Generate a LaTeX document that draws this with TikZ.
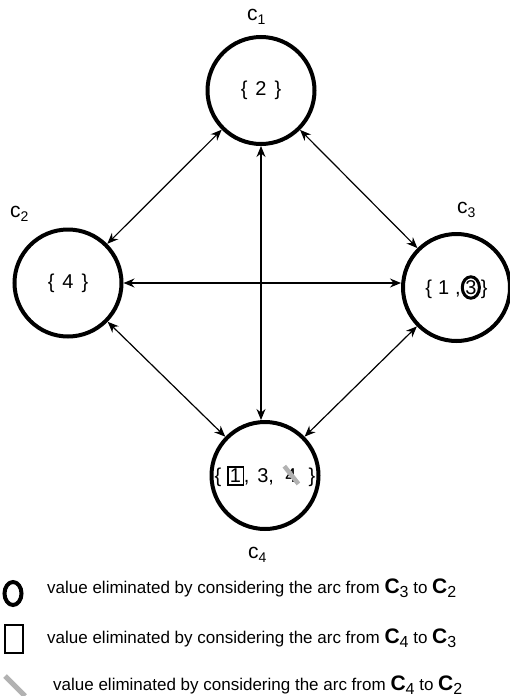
\documentclass[tikz,border=0pt]{standalone}
\usepackage{fontspec}
\setmainfont{Liberation Sans}
\usetikzlibrary{arrows.meta,shapes.geometric}

\tikzset{
  varnode/.style={circle, draw, line width=4pt, minimum size=107pt, inner sep=0pt, font=\fontsize{20}{24}\selectfont},
  link/.style={{Stealth[length=11pt,width=9pt]}-{Stealth[length=11pt,width=9pt]}, line width=1.2pt},
  nametag/.style={anchor=base west, inner sep=0pt, font=\fontsize{21}{24}\selectfont},
  legendtext/.style={anchor=base west, inner sep=0pt, font=\fontsize{17}{20}\selectfont},
}

\newcommand{\wgap}{\hspace{8pt}}
\newcommand{\csub}[1]{c\raisebox{-4pt}{\fontsize{14}{14}\selectfont #1}}
\newcommand{\arcend}[1]{{\fontsize{21}{21}\selectfont\bfseries C}\raisebox{-4pt}{\fontsize{16}{16}\selectfont #1}}
\newcommand{\boxd}[1]{{\setlength{\fboxsep}{1.5pt}\setlength{\fboxrule}{1.2pt}\fbox{#1}}}
\newcommand{\ringed}[1]{\tikz[baseline=(r.base)]\node[ellipse, draw, line width=3pt, inner sep=0.5pt, outer sep=0pt, minimum size=0pt](r){#1};}
\newcommand{\struck}[1]{\tikz[baseline=(s.base)]{\node[rectangle, inner sep=0pt, outer sep=0pt, minimum size=0pt](s){#1};
  \draw[gray!60, line width=4.5pt] ([shift={(-1pt,3pt)}]s.north west) -- ([shift={(2pt,-1pt)}]s.south east);}}

\begin{document}
\begin{tikzpicture}[x=1pt, y=-1pt]
  \useasboundingbox (0,0) rectangle (509,696);

  % the four variables and their domains
  \node[varnode] (c1) at (261,90.5)  {\{\wgap 2\wgap\}};
  \node[varnode] (c2) at (68,283)    {\{\wgap 4\wgap\}};
  \node[varnode] (c3) at (456.5,287.5) {\{\hspace{6pt}1\hspace{6pt},\ringed{3}\}};
  \node[varnode] (c4) at (265,475.5) {\{\hspace{6pt}\boxd{1},\wgap 3,\wgap\struck{4}\wgap\}};

  % names
  \node[nametag] (t1) at (247,20)  {\csub{1}};
  \node[nametag] (t2) at (10,217)  {\csub{2}};
  \node[nametag] (t3) at (457,213) {\csub{3}};
  \node[nametag] (t4) at (248,558) {\csub{4}};

  % arcs
  \foreach \a/\b in {c1/c2, c1/c3, c2/c4, c3/c4} {
    \draw[link] (\a) -- (\b);
  }
  \draw[link] (c1) -- (c1 |- c4.north); % straight down
  \draw[link] (c2) -- (c2 -| c3.west); % straight across

  % legend
  \draw[line width=4pt] (13,593.5) ellipse [x radius=8.5, y radius=11.5];
  \draw[line width=1.2pt] (5,625) rectangle (23,653);
  \draw[gray!60, line width=5pt] (5,676) -- (25,696);
  \node[legendtext] (l1) at (47,593) {value eliminated by considering the arc from \arcend{3} to \arcend{2}};
  \node[legendtext] (l2) at (47,643) {value eliminated by considering the arc from \arcend{4} to \arcend{3}};
  \node[legendtext] (l3) at (53,690) {value eliminated by considering the arc from \arcend{4} to \arcend{2}};
\end{tikzpicture}
\end{document}
